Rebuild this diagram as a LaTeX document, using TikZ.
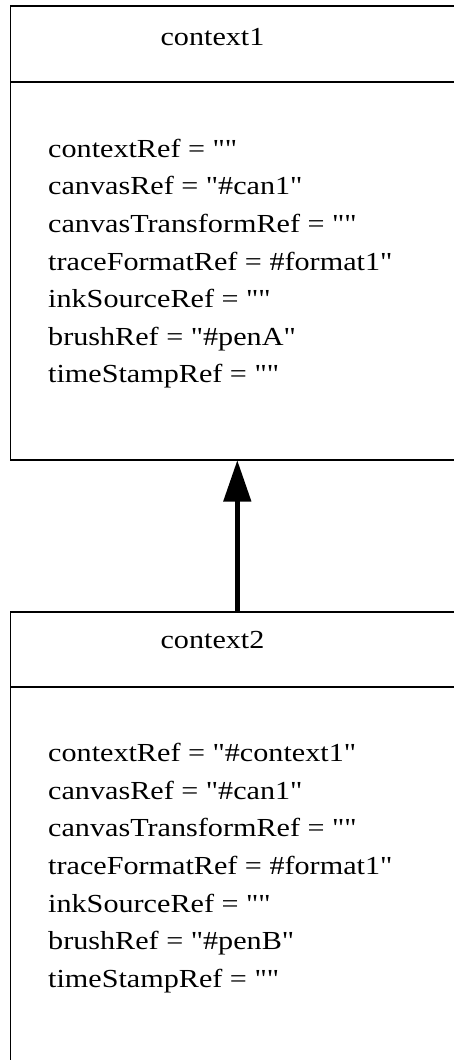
\documentclass[tikz,border=0pt]{standalone}
\usepackage{fontspec}
\setmainfont{Liberation Serif}[Ligatures=TeXOff, FakeStretch=1.16]
\usetikzlibrary{arrows.meta}

\tikzset{
  umlbox/.style={draw=black, line width=1.3pt, fill=white, inner sep=0pt, outer sep=0pt,
                 minimum width=453.2pt, minimum height=454pt},
  sepline/.style={draw=black, line width=1.3pt},
  boxtitle/.style={anchor=base, inner sep=0pt, font=\fontsize{26}{32}\selectfont},
  attr/.style={anchor=base west, inner sep=0pt, font=\fontsize{26}{32}\selectfont},
  inherits/.style={draw=black, line width=5.5pt,
                   -{Triangle[length=41.5pt, width=26.7pt]}},
}

\begin{document}
\begin{tikzpicture}[x=1pt, y=-1pt]
  \useasboundingbox (0,0) rectangle (453,1060);

  % the two context boxes
  \node[umlbox] (ctx1) at (237.3,233) {};
  \node[umlbox] (ctx2) at (237.3,839) {};

  % header separators
  \coordinate (h1) at (0,82);
  \coordinate (h2) at (0,687);
  \draw[sepline] (h1 -| ctx1.west) -- (h1 -| ctx1.east);
  \draw[sepline] (h2 -| ctx2.west) -- (h2 -| ctx2.east);

  % titles
  \node[boxtitle] (t1) at (212.5,45) {context1};
  \node[boxtitle] (t2) at (212.5,648) {context2};

  % attributes of context1
  \foreach \txt [count=\i from 0] in {
      contextRef = "",
      canvasRef = "\#can1",
      canvasTransformRef = "",
      traceFormatRef = \#format1",
      inkSourceRef = "",
      brushRef = "\#penA",
      timeStampRef = ""}
    \node[attr] (a1-\i) at (48,157.3+37.6*\i) {\txt};

  % attributes of context2
  \foreach \txt [count=\i from 0] in {
      contextRef = "\#context1",
      canvasRef = "\#can1",
      canvasTransformRef = "",
      traceFormatRef = \#format1",
      inkSourceRef = "",
      brushRef = "\#penB",
      timeStampRef = ""}
    \node[attr] (a2-\i) at (48,761.7+37.6*\i) {\txt};

  % inheritance arrow
  \draw[inherits] (ctx2.north) -- (ctx1.south);
\end{tikzpicture}
\end{document}
